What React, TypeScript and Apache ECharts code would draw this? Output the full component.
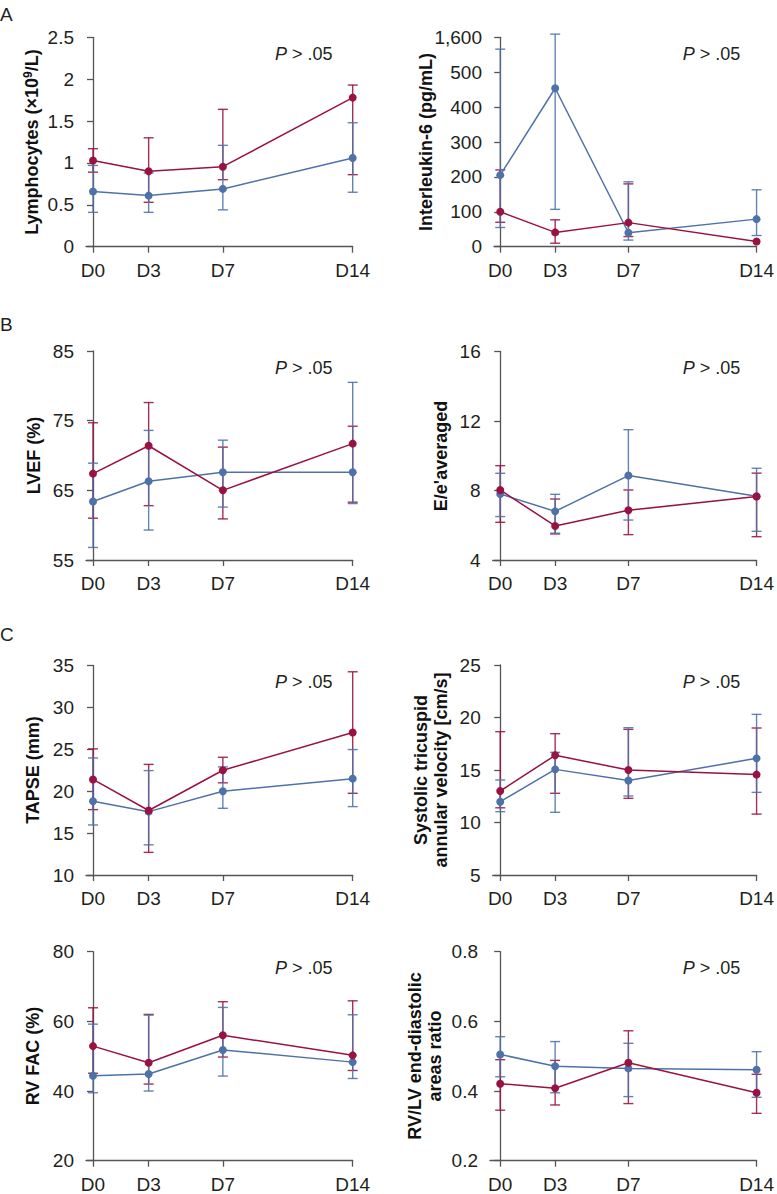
import React, { useEffect, useRef } from 'react';
import * as echarts from 'echarts';

const days = [0, 3, 7, 14];

// A: Lymphocytes
const lymphRed = [1.03, 0.9, 0.955, 1.78];
const lymphRedLo = [0.89, 0.53, 0.8, 0.86];
const lymphRedHi = [1.17, 1.3, 1.64, 1.93];
const lymphBlue = [0.66, 0.61, 0.69, 1.06];
const lymphBlueLo = [0.41, 0.41, 0.44, 0.65];
const lymphBlueHi = [0.97, 0.88, 1.21, 1.48];

// A: Interleukin-6 (broken axis above 500)
const il6Red = [100, 41, 69, 15];
const il6RedLo = [70, 10, 29, 15];
const il6RedHi = [220, 77, 180, 15];
const il6Blue = [205, 454, 40, 79];
const il6BlueLo = [55, 107, 19, 32];
const il6BlueHi = [1226, 1700, 186, 163];

// B: LVEF
const lvefRed = [67.4, 71.4, 65.0, 71.7];
const lvefRedLo = [61.0, 62.8, 60.9, 63.3];
const lvefRedHi = [74.7, 77.6, 71.2, 74.2];
const lvefBlue = [63.4, 66.3, 67.6, 67.6];
const lvefBlueLo = [56.8, 59.3, 62.6, 63.1];
const lvefBlueHi = [68.9, 73.6, 72.2, 80.5];

// B: E/e'
const eeRed = [8.03, 5.96, 6.86, 7.65];
const eeRedLo = [6.17, 5.5, 5.46, 5.34];
const eeRedHi = [9.43, 7.51, 8.03, 9.0];
const eeBlue = [7.8, 6.8, 8.86, 7.67];
const eeBlueLo = [6.5, 5.54, 6.3, 5.65];
const eeBlueHi = [8.99, 7.78, 11.5, 9.28];

// C: TAPSE
const tapseRed = [21.4, 17.7, 22.5, 27.0];
const tapseRedLo = [17.8, 12.7, 21.0, 19.75];
const tapseRedHi = [25.05, 23.2, 24.05, 34.25];
const tapseBlue = [18.8, 17.56, 20.0, 21.5];
const tapseBlueLo = [15.97, 13.6, 17.96, 18.16];
const tapseBlueHi = [23.97, 22.46, 22.9, 24.97];

// C: Systolic tricuspid annular velocity
const stvRed = [13.0, 16.4, 15.0, 14.56];
const stvRedLo = [11.4, 12.78, 12.3, 10.8];
const stvRedHi = [18.65, 18.46, 18.87, 19.0];
const stvBlue = [11.98, 15.06, 14.0, 16.11];
const stvBlueLo = [11.03, 10.97, 12.52, 12.87];
const stvBlueHi = [14.05, 16.68, 19.03, 20.3];

// C: RV FAC
const facRed = [52.9, 48.1, 56.0, 50.24];
const facRedLo = [45.1, 42.0, 49.76, 45.9];
const facRedHi = [63.9, 62.0, 65.65, 65.9];
const facBlue = [44.4, 44.9, 51.8, 48.3];
const facBlueLo = [39.5, 40.0, 44.3, 43.6];
const facBlueHi = [59.2, 61.8, 64.0, 61.9];

// C: RV/LV ratio
const rvlvRed = [0.421, 0.408, 0.481, 0.395];
const rvlvRedLo = [0.345, 0.36, 0.364, 0.336];
const rvlvRedHi = [0.49, 0.488, 0.573, 0.448];
const rvlvBlue = [0.505, 0.471, 0.465, 0.461];
const rvlvBlueLo = [0.441, 0.395, 0.384, 0.382];
const rvlvBlueHi = [0.556, 0.542, 0.537, 0.513];

const RED = '#9a1242';
const BLUE = '#4e72a8';
const AXIS = '#555555';
const TEXT = '#231f20';
const FONT = '"Liberation Sans", Arial, Helvetica, sans-serif';

// broken IL-6 axis: 500..1600 compressed into 500..600
const il6ToAxis = (v: number) => (v <= 500 ? v : 500 + (v - 500) / 11);

type Panel = {
  red: number[]; redLo: number[]; redHi: number[];
  blue: number[]; blueLo: number[]; blueHi: number[];
  yMin: number; yMax: number; yInterval: number;
  fmt?: (v: number) => string;
  tf?: (v: number) => number;
  axisX: number; d0X: number; d14X: number; top: number; bottom: number;
};

const panels: Panel[] = [
  { red: lymphRed, redLo: lymphRedLo, redHi: lymphRedHi, blue: lymphBlue, blueLo: lymphBlueLo, blueHi: lymphBlueHi,
    yMin: 0, yMax: 2.5, yInterval: 0.5, axisX: 86, d0X: 93, d14X: 352.7, top: 37.3, bottom: 246.7 },
  { red: il6Red, redLo: il6RedLo, redHi: il6RedHi, blue: il6Blue, blueLo: il6BlueLo, blueHi: il6BlueHi,
    yMin: 0, yMax: 600, yInterval: 100, fmt: (v) => (v >= 600 ? '1,600' : String(v)), tf: il6ToAxis,
    axisX: 494, d0X: 500.3, d14X: 759.3, top: 37.3, bottom: 246.7 },
  { red: lvefRed, redLo: lvefRedLo, redHi: lvefRedHi, blue: lvefBlue, blueLo: lvefBlueLo, blueHi: lvefBlueHi,
    yMin: 55, yMax: 85, yInterval: 10, axisX: 86, d0X: 93, d14X: 352.7, top: 351, bottom: 560 },
  { red: eeRed, redLo: eeRedLo, redHi: eeRedHi, blue: eeBlue, blueLo: eeBlueLo, blueHi: eeBlueHi,
    yMin: 4, yMax: 16, yInterval: 4, axisX: 492.7, d0X: 500.3, d14X: 759.3, top: 351.5, bottom: 560 },
  { red: tapseRed, redLo: tapseRedLo, redHi: tapseRedHi, blue: tapseBlue, blueLo: tapseBlueLo, blueHi: tapseBlueHi,
    yMin: 10, yMax: 35, yInterval: 5, axisX: 86, d0X: 93, d14X: 352.7, top: 665.5, bottom: 875 },
  { red: stvRed, redLo: stvRedLo, redHi: stvRedHi, blue: stvBlue, blueLo: stvBlueLo, blueHi: stvBlueHi,
    yMin: 5, yMax: 25, yInterval: 5, axisX: 492.7, d0X: 500.3, d14X: 759.3, top: 665, bottom: 875 },
  { red: facRed, redLo: facRedLo, redHi: facRedHi, blue: facBlue, blueLo: facBlueLo, blueHi: facBlueHi,
    yMin: 20, yMax: 80, yInterval: 20, axisX: 86, d0X: 93, d14X: 352.7, top: 951.7, bottom: 1160.7 },
  { red: rvlvRed, redLo: rvlvRedLo, redHi: rvlvRedHi, blue: rvlvBlue, blueLo: rvlvBlueLo, blueHi: rvlvBlueHi,
    yMin: 0.2, yMax: 0.8, yInterval: 0.2, fmt: (v) => String(Math.round(v * 10) / 10),
    axisX: 490, d0X: 500.3, d14X: 759.3, top: 951.7, bottom: 1160.7 },
];

const yTitles = [
  { text: '{n|Lymphocytes (×10}{s|9}{n|/L)}', x: 32, y: 142 },
  { text: '{n|Interleukin-6 (pg/mL)}', x: 426, y: 142 },
  { text: '{n|LVEF (%)}', x: 34, y: 455.5 },
  { text: "{n|E/e'averaged}", x: 440.5, y: 456 },
  { text: '{n|TAPSE (mm)}', x: 33, y: 770 },
  { text: '{n|Systolic tricuspid}\n{n|annular velocity [cm/s]}', x: 431, y: 770 },
  { text: '{n|RV FAC (%)}', x: 33, y: 1056 },
  { text: '{n|RV/LV end-diastolic}\n{n|areas ratio}', x: 425, y: 1056 },
];

const pTexts = [
  { x: 275, y: 54.3 }, { x: 682.7, y: 54.3 },
  { x: 275, y: 367.7 }, { x: 682.7, y: 368 },
  { x: 275, y: 682.3 }, { x: 682.7, y: 682.3 },
  { x: 275, y: 967.7 }, { x: 682.7, y: 967.7 },
];

const letters = [
  { t: 'A', y: 14 }, { t: 'B', y: 324 }, { t: 'C', y: 634 },
];

function errRender(color: string) {
  return (params: any, api: any) => {
    const x = api.value(0);
    const lo = api.value(1);
    const hi = api.value(2);
    if (lo === hi) return { type: 'group', children: [] };
    const a = api.coord([x, hi]);
    const b = api.coord([x, lo]);
    const w = 5;
    const style = { stroke: color, lineWidth: 1.4, opacity: 0.88 };
    return {
      type: 'group',
      children: [
        { type: 'line', shape: { x1: a[0], y1: a[1], x2: b[0], y2: b[1] }, style },
        { type: 'line', shape: { x1: a[0] - w, y1: a[1], x2: a[0] + w, y2: a[1] }, style },
        { type: 'line', shape: { x1: b[0] - w, y1: b[1], x2: b[0] + w, y2: b[1] }, style },
      ],
    };
  };
}

function buildOption() {
  const grid: any[] = [];
  const xAxis: any[] = [];
  const yAxis: any[] = [];
  const series: any[] = [];
  panels.forEach((p, i) => {
    const tf = p.tf || ((v: number) => v);
    const perDay = (p.d14X - p.d0X) / 14;
    grid.push({ left: p.axisX, top: p.top, width: p.d14X - p.axisX, height: p.bottom - p.top });
    xAxis.push({
      type: 'value', gridIndex: i, min: -(p.d0X - p.axisX) / perDay, max: 14,
      splitLine: { show: false },
      axisLine: { lineStyle: { color: AXIS, width: 1.3 } },
      axisTick: { show: true, customValues: days, length: 6, lineStyle: { color: AXIS, width: 1.3 } },
      axisLabel: { customValues: days, formatter: (v: number) => 'D' + v, color: TEXT, fontSize: 19, fontFamily: FONT, margin: 14 },
    });
    yAxis.push({
      type: 'value', gridIndex: i, min: p.yMin, max: p.yMax, interval: p.yInterval,
      splitLine: { show: false },
      axisLine: { show: true, lineStyle: { color: AXIS, width: 1.3 } },
      axisTick: { show: true, length: 6, lineStyle: { color: AXIS, width: 1.3 } },
      axisLabel: {
        color: TEXT, fontSize: 19, fontFamily: FONT, margin: 12,
        formatter: p.fmt ? p.fmt : (v: number) => String(v),
      },
    });
    series.push({
      type: 'custom', xAxisIndex: i, yAxisIndex: i, z: 2, clip: false,
      renderItem: errRender(RED),
      encode: { x: 0, y: [1, 2] },
      data: days.map((d, k) => [d, tf(p.redLo[k]), tf(p.redHi[k])]),
      silent: true,
    });
    series.push({
      type: 'custom', xAxisIndex: i, yAxisIndex: i, z: 2, clip: false,
      renderItem: errRender(BLUE),
      encode: { x: 0, y: [1, 2] },
      data: days.map((d, k) => [d, tf(p.blueLo[k]), tf(p.blueHi[k])]),
      silent: true,
    });
    series.push({
      type: 'line', xAxisIndex: i, yAxisIndex: i, z: 3,
      symbol: 'circle', symbolSize: 8, showSymbol: true,
      lineStyle: { color: BLUE, width: 1.5 }, itemStyle: { color: BLUE },
      data: days.map((d, k) => [d, tf(p.blue[k])]),
    });
    series.push({
      type: 'line', xAxisIndex: i, yAxisIndex: i, z: 4,
      symbol: 'circle', symbolSize: 8, showSymbol: true,
      lineStyle: { color: RED, width: 1.5 }, itemStyle: { color: RED },
      data: days.map((d, k) => [d, tf(p.red[k])]),
    });
  });

  const graphic: any[] = [];
  yTitles.forEach((t) => {
    graphic.push({
      type: 'text', x: t.x, y: t.y, rotation: Math.PI / 2,
      style: {
        text: t.text, align: 'center', verticalAlign: 'middle', fill: '#111',
        fontFamily: FONT, fontSize: 18, fontWeight: 'bold',
        rich: {
          n: { fontSize: 18, fontWeight: 'bold', fontFamily: FONT, fill: '#111', lineHeight: 20, align: 'center' },
          s: { fontSize: 12, fontWeight: 'bold', fontFamily: FONT, fill: '#111', lineHeight: 20, verticalAlign: 'top', padding: [0, 0, 10, 0] },
        },
      },
    });
  });
  pTexts.forEach((t) => {
    graphic.push({
      type: 'text', x: t.x, y: t.y,
      style: {
        text: '{i|P} > .05', align: 'left', verticalAlign: 'middle', fill: TEXT,
        fontFamily: FONT, fontSize: 18,
        rich: {
          i: { fontStyle: 'italic', fontSize: 18, fontFamily: FONT, fill: TEXT },
        },
      },
    });
  });
  letters.forEach((l) => {
    graphic.push({
      type: 'text', x: 0, y: l.y,
      style: { text: l.t, align: 'left', verticalAlign: 'middle', fill: TEXT, fontFamily: FONT, fontSize: 19 },
    });
  });

  return {
    animation: false,
    backgroundColor: '#ffffff',
    grid, xAxis, yAxis, series, graphic,
  };
}

export default function App() {
  const ref = useRef<HTMLDivElement>(null);
  useEffect(() => {
    document.body.style.margin = '0';
    if (!ref.current) return;
    const chart = echarts.init(ref.current, undefined, { renderer: 'svg' });
    chart.setOption(buildOption() as any);
    return () => chart.dispose();
  }, []);
  return <div ref={ref} style={{ width: 777, height: 1194 }} />;
}
